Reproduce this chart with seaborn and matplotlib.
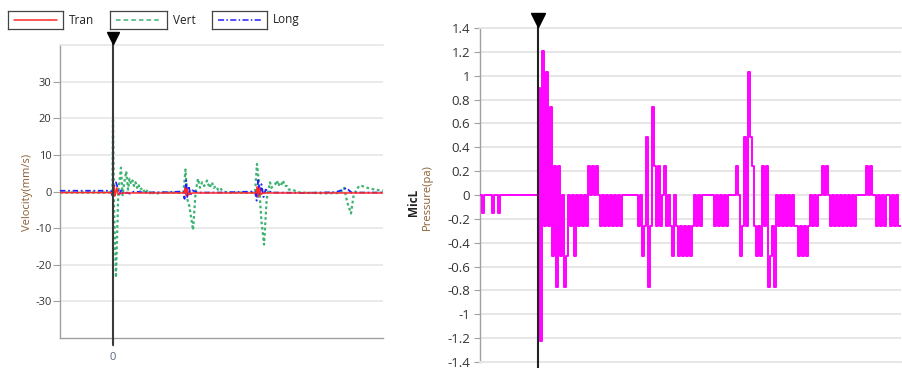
import numpy as np
import pandas as pd
import matplotlib
matplotlib.use("Agg")
import matplotlib.pyplot as plt
import matplotlib.transforms as mtransforms
from matplotlib.lines import Line2D
from matplotlib.ticker import FuncFormatter
import seaborn as sns

# ---------------- data ----------------
legend_labels = ["Tran", "Vert", "Long"]
cursor_t = 0.0

# Velocity (mm/s), left panel; time in s
tran_t = [-0.5, -0.01, 0.0, 0.01, 0.02, 0.035, 0.05, 0.07, 0.1, 0.3,
          0.67, 0.68, 0.69, 0.70, 0.715, 0.73, 0.76,
          1.35, 1.36, 1.37, 1.38, 1.395, 1.41, 1.44, 2.547]
tran_v = [-0.3, -0.3, -1.5, 1.5, -1.2, 1.0, -0.8, -0.5, -0.4, -0.4,
          -0.4, 1.0, -1.2, 0.8, -0.9, -0.5, -0.4,
          -0.4, 1.3, -1.5, 1.0, -0.8, -0.5, -0.4, -0.4]

vert_t = [-0.5, -0.005, 0.0, 0.01, 0.028, 0.05, 0.075, 0.09, 0.104, 0.125,
          0.142, 0.155, 0.17, 0.185, 0.198, 0.212, 0.226, 0.24, 0.255, 0.28,
          0.302, 0.33, 0.349, 0.37, 0.396, 0.44, 0.6, 0.665, 0.684, 0.70,
          0.72, 0.755, 0.78, 0.802, 0.82, 0.84, 0.86, 0.887, 0.91, 0.934,
          0.95, 0.972, 0.99, 1.009, 1.038, 1.085, 1.2, 1.34, 1.358, 1.375,
          1.40, 1.425, 1.45, 1.481, 1.495, 1.509, 1.53, 1.547, 1.56, 1.575,
          1.59, 1.604, 1.62, 1.642, 1.66, 1.689, 1.764, 2.0, 2.142, 2.18,
          2.21, 2.245, 2.27, 2.283, 2.32, 2.349, 2.4, 2.472, 2.547]
vert_v = [-0.3, -0.3, 20.0, -5.0, -23.5, 0.0, 6.5, -1.0, 2.0, 5.5,
          0.5, 3.5, 2.0, 3.0, 1.5, 2.5, 1.0, 2.0, 0.5, 1.0,
          -0.5, 0.5, -0.5, 0.0, -0.8, -0.3, -0.3, -0.3, 6.0, -2.0,
          -4.0, -10.5, 0.0, 3.5, 1.0, 2.5, 1.5, 3.0, 1.0, 2.5,
          1.0, 1.5, 0.5, 1.0, 0.0, -0.3, -0.3, -0.3, 7.5, 3.0,
          -8.0, -14.5, -2.0, 2.5, 1.0, 1.5, 2.0, 3.0, 1.5, 2.5,
          2.0, 3.0, 1.5, 1.5, 0.5, 0.5, -0.3, -0.5, -0.4, 1.0,
          -3.0, -6.0, -1.0, -0.3, 1.5, 1.5, 1.0, 0.5, 0.2]

long_t = [-0.5, -0.02, 0.0, 0.015, 0.028, 0.045, 0.06, 0.08, 0.1, 0.13,
          0.16, 0.2, 0.3, 0.5, 0.66, 0.675, 0.69, 0.70, 0.715, 0.73,
          0.75, 0.8, 1.0, 1.34, 1.355, 1.37, 1.385, 1.40, 1.42, 1.44,
          1.5, 1.8, 2.1, 2.17, 2.2, 2.25, 2.4, 2.547]
long_v = [0.2, 0.2, -2.0, 2.0, 2.5, 1.0, -0.8, 0.5, -0.8, -0.3,
          -0.6, 0.0, -0.3, -0.2, 0.0, -2.0, 3.0, -1.5, 1.5, -1.0,
          0.3, -0.3, -0.3, 0.0, -2.5, 3.5, -1.0, 2.0, -1.5, 0.5,
          -0.3, -0.4, -0.2, 0.5, 1.0, -0.3, -0.3, -0.3]

# Pressure (pa), right panel; one sample every 2 ms, first sample at -58 ms
pressure_t0 = -58
pressure_dt = 2
pressure_pa = [
    0, -0.15, 0, 0, 0, 0, -0.15, 0, 0, -0.15,
    0, 0, 0, 0, 0, 0, 0, 0, 0, 0,
    0, 0, 0, 0, 0, 0, 0, 0, 0, 0.9,
    -1.22, 1.21, -0.26, 1.03, -0.26, 0.74, -0.51, 0.24, -0.77, 0.24,
    -0.51, 0, -0.77, -0.51, 0, -0.26, 0, -0.51, 0, -0.26,
    0, -0.26, 0, -0.26, 0.24, 0, 0.24, 0, 0.24, 0,
    -0.26, 0, -0.26, 0, -0.26, 0, -0.26, 0, -0.26, 0,
    -0.26, 0, 0, 0, 0, 0, 0, 0, 0, -0.26,
    0, -0.51, -0.26, 0.49, -0.77, -0.26, 0.74, 0.24, -0.26, 0.24,
    -0.26, 0, 0.24, -0.26, 0, -0.26, -0.51, 0, -0.26, -0.51,
    -0.26, -0.51, -0.26, -0.51, -0.26, -0.51, -0.26, 0, -0.26, 0,
    -0.26, 0, 0, 0, 0, 0, 0, -0.26, 0, -0.26,
    0, -0.26, 0, -0.26, 0, 0, 0, 0, 0.24, 0,
    -0.51, -0.26, 0.49, -0.26, 1.03, 0.49, 0.24, -0.26, -0.51, -0.26,
    -0.51, 0.24, -0.26, 0.24, -0.77, -0.51, -0.26, -0.77, 0, -0.26,
    0, -0.26, 0, -0.26, 0, -0.26, 0, -0.26, -0.26, -0.51,
    -0.26, -0.51, -0.26, -0.51, -0.26, 0, -0.26, 0, -0.26, 0,
    0, 0.24, 0, 0.24, 0, -0.26, 0, -0.26, 0, -0.26,
    0, -0.26, 0, -0.26, 0, -0.26, 0, -0.26, 0, 0,
    0, 0, 0, 0.24, 0, 0.24, 0, 0, -0.26, 0,
    -0.26, 0, -0.26, 0, 0, -0.26, 0, -0.26, 0, -0.26,
    -0.26, -0.26,
]

vel_yticks = [30, 20, 10, 0, -10, -20, -30]
pres_yticks = [1.4, 1.2, 1.0, 0.8, 0.6, 0.4, 0.2, 0.0, -0.2, -0.4, -0.6,
               -0.8, -1.0, -1.2, -1.4]

# ---------------- style ----------------
sns.set_theme(style="white")
plt.rcParams['font.family'] = ['Open Sans', 'DejaVu Sans']

W, H = 902, 368
fig = plt.figure(figsize=(W / 100, H / 100), dpi=100)


def px_box(x0, y0, x1, y1):
    return [x0 / W, 1 - y1 / H, (x1 - x0) / W, (y1 - y0) / H]


c_tran, c_vert, c_long = "#ff2a2a", "#3cb371", "#2020ff"
c_mag = "#ff00ff"
grid_c = "#e6e6e6"
brown = "#8b5e34"

# ---------------- left: velocity ----------------
axL = fig.add_axes(px_box(60, 45, 383, 338))
vel = pd.DataFrame({"t": vert_t, "v": vert_v})
sns.lineplot(data=vel, x="t", y="v", ax=axL, color=c_vert, lw=1.6,
             linestyle=(0, (1.2, 1.2)), estimator=None, sort=False, zorder=2)
sns.lineplot(x=long_t, y=long_v, ax=axL, color=c_long, lw=1.3,
             linestyle=(0, (3, 1.5, 1, 1.5)), estimator=None, sort=False, zorder=3)
sns.lineplot(x=tran_t, y=tran_v, ax=axL, color=c_tran, lw=1.1,
             estimator=None, sort=False, zorder=4)
axL.set_xlim(-0.5, 2.547)
axL.set_ylim(-40, 40)
axL.set_yticks(vel_yticks)
axL.set_yticklabels([str(v) for v in vel_yticks])
axL.set_xticks([cursor_t])
axL.set_xticklabels(["0"])
axL.grid(axis="y", color=grid_c, lw=1.2)
axL.set_axisbelow(True)
axL.set_xlabel("")
axL.set_ylabel("")
axL.spines["right"].set_visible(False)
axL.spines["top"].set_color(grid_c)
axL.spines["top"].set_linewidth(1.2)
for s in ["left", "bottom"]:
    axL.spines[s].set_color("#a0a0a0")
    axL.spines[s].set_linewidth(1.0)
axL.tick_params(axis="y", left=True, length=5, width=0.8, color="#a0a0a0",
                labelsize=8, labelcolor="#333333", pad=1)
axL.tick_params(axis="x", bottom=True, length=6, width=0.8, color="#a0a0a0",
                labelsize=8, labelcolor="#5a6680", pad=4)
axL.axvline(cursor_t, ymin=-7 / 293, ymax=1 + 8 / 293, color="#3a3a3a",
            lw=1.5, clip_on=False, zorder=6)
trL = mtransforms.blended_transform_factory(axL.transData, axL.transAxes)
axL.plot([cursor_t], [1 + 7.5 / 293], marker="v", ms=9, color="black",
         transform=trL, clip_on=False, zorder=7)

# ---------------- right: pressure ----------------
axR = fig.add_axes(px_box(480, 28, 901, 362))
pres_t = pressure_t0 + pressure_dt * np.arange(len(pressure_pa))
pres = pd.DataFrame({"t": pres_t, "p": pressure_pa})
sns.lineplot(data=pres, x="t", y="p", ax=axR, color=c_mag, lw=1.4,
             drawstyle="steps-post", estimator=None, sort=False, zorder=3)
axR.set_xlim(-58, 363)
axR.set_ylim(-1.4, 1.4)
axR.set_yticks(pres_yticks)
axR.yaxis.set_major_formatter(FuncFormatter(lambda v, _: f"{round(v, 1) + 0:g}"))
axR.set_xticks([])
axR.grid(axis="y", color=grid_c, lw=1.4)
axR.set_axisbelow(True)
axR.set_xlabel("")
axR.set_ylabel("")
axR.spines["right"].set_visible(False)
for s in ["top", "bottom"]:
    axR.spines[s].set_color(grid_c)
    axR.spines[s].set_linewidth(1.4)
axR.spines["left"].set_color("#a0a0a0")
axR.spines["left"].set_linewidth(1.0)
axR.tick_params(axis="y", left=True, length=4, width=0.8, color="#a0a0a0",
                labelsize=9.5, labelcolor="#333333", pad=3)
axR.axvline(cursor_t, ymin=-0.03, ymax=1 + 8 / 334, color="#222222",
            lw=1.5, clip_on=False, zorder=6)
trR = mtransforms.blended_transform_factory(axR.transData, axR.transAxes)
axR.plot([cursor_t], [1 + 8 / 334], marker="v", ms=10, color="black",
         transform=trR, clip_on=False, zorder=7)

# ---------------- axis titles ----------------
fig.text(27.5 / W, 1 - 192 / H, "Velocity(mm/s)", rotation=90, ha="center",
         va="center", fontsize=8, color=brown)
fig.text(413 / W, 1 - 202 / H, "MicL", rotation=90, ha="center", va="center",
         fontsize=8.5, weight="bold", color="#222222")
fig.text(427 / W, 1 - 197 / H, "Pressure(pa)", rotation=90, ha="center",
         va="center", fontsize=8, color=brown)

# ---------------- legend (boxed handles) ----------------
leg_boxes = [(8, 63), (110, 167), (212, 267)]
leg_styles = [dict(color=c_tran, ls="-", lw=1.1),
              dict(color=c_vert, ls=(0, (3, 2)), lw=1.1),
              dict(color=c_long, ls=(0, (4, 1.5, 1, 1.5)), lw=1.1)]
for (x0, x1), lab, st in zip(leg_boxes, legend_labels, leg_styles):
    lax = fig.add_axes(px_box(x0, 11, x1, 29))
    lax.set_xticks([])
    lax.set_yticks([])
    lax.set_facecolor("white")
    for sp in lax.spines.values():
        sp.set_visible(True)
        sp.set_color("#444444")
        sp.set_linewidth(0.9)
    lax.add_line(Line2D([0.1, 0.9], [0.5, 0.5], transform=lax.transAxes, **st))
    fig.text((x1 + 6) / W, 1 - 20 / H, lab, ha="left", va="center",
             fontsize=8.5, color="#222222")

fig.savefig("out.png", dpi=100)
